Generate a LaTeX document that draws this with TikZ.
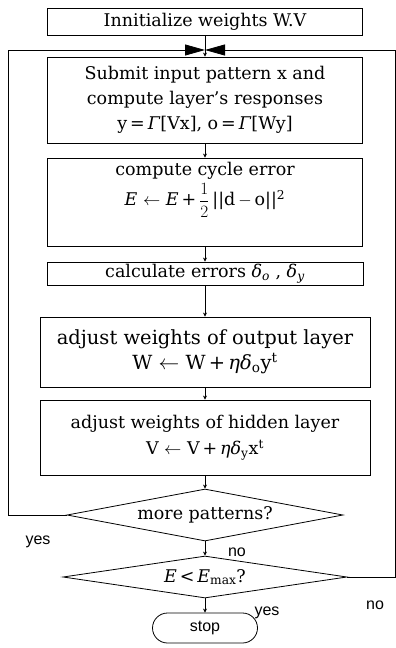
\documentclass[tikz,border=0pt]{standalone}
\usepackage{fontspec}
\setmainfont{DejaVu Serif}
\newfontfamily\labfont{Liberation Sans}
\usetikzlibrary{shapes.geometric,shapes.misc,arrows.meta}
\begin{document}
\begin{tikzpicture}[x=1pt,y=-1pt,
 font=\fontsize{17.5}{25}\selectfont,
 box/.style={draw,line width=0.8pt,inner sep=0pt,align=center,minimum width=315pt},
 dec/.style={draw,diamond,line width=0.8pt,inner sep=0pt,shape aspect=5.3,minimum width=276pt,minimum height=52pt},
 ln/.style={line width=0.8pt},
 sm/.style={ln,-{Stealth[length=4pt,width=4pt]}},
 big/.style={ln,-{Triangle[length=20pt,width=11pt]}},
 lbl/.style={font=\labfont\fontsize{16}{18}\selectfont,inner sep=0pt}
]
\useasboundingbox (0,0) rectangle (396,648);

\node[box,minimum height=27pt] (b1) at (205,22) {Innitialize weights W.V};
\node[box,minimum height=86pt] (b2) at (205,100) {Submit input pattern x and\\compute layer's responses\\y\,=\,\textit{Γ}[Vx], o\,=\,\textit{Γ}[Wy]};
\node[box,minimum height=88pt] (b3) at (205,202) {};
\node[align=center,inner sep=0pt,font=\fontsize{17.5}{30}\selectfont] (t3) at (205,190) {compute cycle error\\\textit{E} $\leftarrow$ \textit{E}\,+\,${\displaystyle\frac{1}{2}}$\,||d\,$-$\,o||\textsuperscript{2}};
\node[box,minimum height=23pt,minimum width=316pt] (b4) at (205,273.5) {calculate errors \textit{δ}\textsubscript{\textit{o}} , \textit{δ}\textsubscript{\textit{y}}};
\node[box,minimum height=70pt,minimum width=330pt,font=\fontsize{19.5}{25}\selectfont] (b5) at (205,352) {adjust weights of output layer\\W $\leftarrow$ W\,+\,\textit{ηδ}\textsubscript{o}y\textsuperscript{t}};
\node[box,minimum height=75pt,minimum width=330pt,font=\fontsize{17.5}{26}\selectfont] (b6) at (205,437.5) {adjust weights of hidden layer\\V $\leftarrow$ V\,+\,\textit{ηδ}\textsubscript{y}x\textsuperscript{t}};
\node[dec] (d1) at (205,515) {more patterns?};
\node[dec,shape aspect=6.7,minimum width=284pt,minimum height=42pt] (d2) at (205,577) {\textit{E}\,<\,\textit{E}\textsubscript{max}?};
\node[draw,rounded rectangle,line width=0.8pt,minimum width=105pt,minimum height=30pt,inner sep=0pt,font=\labfont\fontsize{16}{18}\selectfont] (st) at (205,628) {stop};

\coordinate (j) at (205,50);
\coordinate (cl) at (8,50);
\coordinate (cr) at (395.5,50);

\draw[ln] (b1.south) -- (j);
\draw[sm] (j) -- (b2.north);
\draw[sm] (b2.south) -- (b3.north);
\draw[sm] (b3.south) -- (b4.north);
\draw[sm] (b4.south) -- (b5.north);
\draw[sm] (b5.south) -- (b6.north);
\draw[sm] (b6.south) -- (d1.north);
\draw[sm] (d1.south) -- (d2.north);
\draw[sm] (d2.south) -- (st.north);
\draw[big] (d1.west) -| (cl) -- (j);
\draw[big] (d2.east) -| (cr) -- (j);

\node[lbl] (ly) at (38,542) {yes};
\node[lbl] (ln1) at (237,552) {no};
\node[lbl] (ln2) at (375,605) {no};
\node[lbl] (ly2) at (267,613) {yes};
\end{tikzpicture}
\end{document}
